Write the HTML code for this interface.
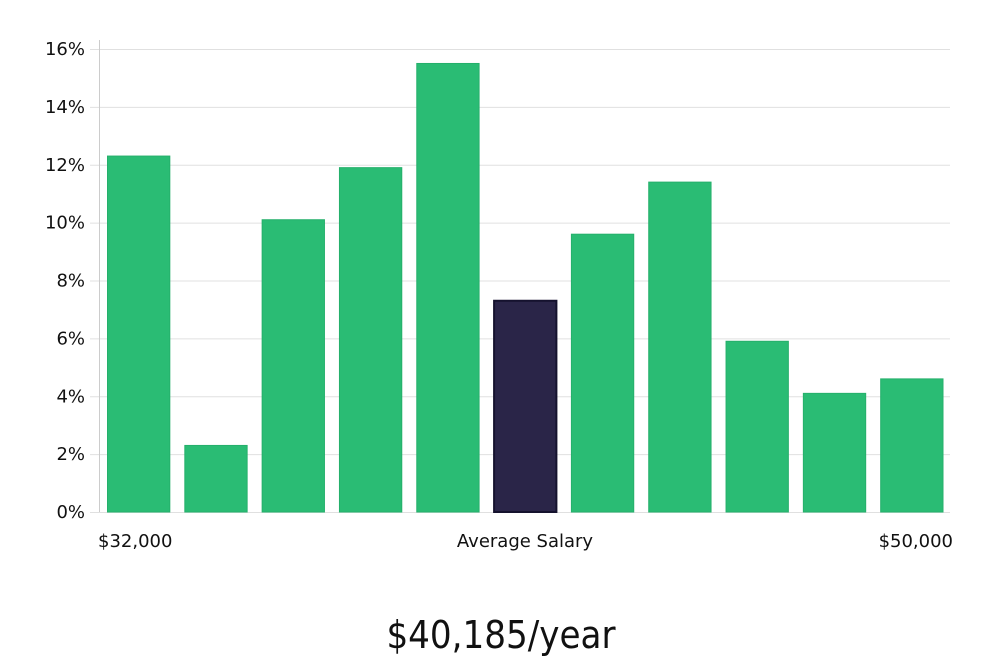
<!DOCTYPE html>
<html><head><meta charset="utf-8"><style>
html,body{margin:0;padding:0;background:#fff;width:1000px;height:660px;overflow:hidden}
svg text{font-family:"DejaVu Sans","Liberation Sans",sans-serif;fill:#111}
</style></head><body>
<svg id="chart" width="1000" height="660" xmlns="http://www.w3.org/2000/svg">
<g id="grid"></g>
<g id="bars"></g>
<line x1="99.5" y1="40" x2="99.5" y2="512" stroke="#ccc" stroke-width="1"/>
<text x="98" y="547" font-size="18">$32,000</text>
<text x="525" y="547" font-size="18" text-anchor="middle">Average Salary</text>
<text x="953" y="547" font-size="18" text-anchor="end">$50,000</text>
<text x="501" y="648" font-size="38" text-anchor="middle" style="font-family:'DejaVu Sans Condensed','Liberation Sans Narrow','DejaVu Sans',sans-serif;font-weight:300">$40,185/year</text>
</svg>
<script>
const categories = ["b1","b2","b3","b4","b5","b6","b7","b8","b9","b10","b11"];
const values = [12.3, 2.3, 10.1, 11.9, 15.5, 7.3, 9.6, 11.4, 5.9, 4.1, 4.6];
const highlightIndex = 5;
const yTicks = [0,2,4,6,8,10,12,14,16];
const yTickLabels = ["0%","2%","4%","6%","8%","10%","12%","14%","16%"];

const NS="http://www.w3.org/2000/svg";
const x0=99.5, x1=950, yBase=512, yTop=49, yMax=16;
const y=v=>yBase-(v/yMax)*(yBase-yTop);
const band=(x1-x0)/categories.length;
const xb=i=>x0+i*band;
const grid=document.getElementById('grid');
yTicks.forEach((t,i)=>{
  const l=document.createElementNS(NS,'line');
  
  
  l.setAttribute('x1',90);l.setAttribute('x2',x1);
  l.setAttribute('y1',y(t)+0.5);l.setAttribute('y2',y(t)+0.5);
  l.setAttribute('stroke','#e0e0e0');l.setAttribute('stroke-width',1);
  grid.appendChild(l);
  const tx=document.createElementNS(NS,'text');
  
  
  tx.setAttribute('x',85);tx.setAttribute('y',y(t)+6);
  tx.setAttribute('font-size','18');tx.setAttribute('text-anchor','end');
  tx.textContent=yTickLabels[i];
  grid.appendChild(tx);
});
const bars=document.getElementById('bars');
values.forEach((v,i)=>{
  const r=document.createElementNS(NS,'rect');
  
  
  const hl=i===highlightIndex;
  r.setAttribute('x',xb(i)+8);r.setAttribute('width',band-15);
  r.setAttribute('y',y(v));r.setAttribute('height',yBase-y(v));
  r.setAttribute('fill',hl?'#2a2548':'#2abc74');
  r.setAttribute('stroke',hl?'#15122e':'#25b06b');r.setAttribute('stroke-width',hl?2:1);
  bars.appendChild(r);
});
</script>
</body></html>
